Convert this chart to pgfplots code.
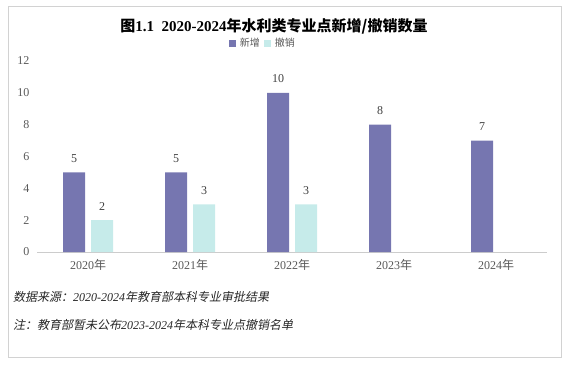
\documentclass[border=0pt]{standalone}
\usepackage{fontspec}
\setmainfont{Liberation Serif}
\newfontfamily\cjk{Noto Sans CJK SC}
\newfontfamily\cjkit[FakeSlant=0.2]{Noto Sans CJK SC}
\usepackage{pgfplots}
\pgfplotsset{compat=1.18}
\definecolor{cnew}{HTML}{7676B0}
\definecolor{cdel}{HTML}{C6EBEA}
\definecolor{tgray}{HTML}{595959}
\definecolor{tdark}{HTML}{404040}
\begin{document}
\begin{tikzpicture}
\path[use as bounding box] (0,0) rectangle (570pt,-367pt);
\draw[gray!35] (8pt,-6pt) rectangle (561pt,-357pt);
\node[font=\fontsize{15}{17}\selectfont\bfseries, text=black] at (274pt,-26pt) {{\cjk\bfseries 图}1.1\ \ 2020-2024{\cjk\bfseries 年水利类专业点新增/撤销数量}};
\begin{axis}[
  at={(37pt,-252pt)}, anchor=south west,
  scale only axis, width=510pt, height=191pt,
  ybar=6pt, bar width=22pt,
  xmin=-0.5, xmax=4.5, ymin=0, ymax=12,
  ytick={0,2,...,12}, xtick={0,1,2,3,4},
  xticklabels={2020{\cjk 年},2021{\cjk 年},2022{\cjk 年},2023{\cjk 年},2024{\cjk 年}},
  axis x line*=bottom, axis y line*=left,
  y axis line style={draw=none},
  x axis line style={draw=gray!40, -},
  major tick length=0pt,
  ticklabel style={font=\fontsize{12}{14}\selectfont, text=tgray},
  yticklabel style={xshift=-4pt},
  xticklabel style={yshift=-4pt},
  /pgf/number format/assume math mode=true,
  nodes near coords,
  nodes near coords style={font=\fontsize{12}{14}\selectfont, text=tdark, yshift=6.5pt},
  legend style={at={(0.443,1.092)}, anchor=center, draw=none, legend columns=2,
    font=\fontsize{10}{12}\selectfont\cjk, text=tgray, column sep=2pt,
    /tikz/every even column/.append style={column sep=2pt}},
  legend image code/.code={\fill[#1] (0pt,-3.5pt) rectangle (7pt,3.5pt);},
  clip=false,
]
\addplot[fill=cnew, draw=none] coordinates {(0,5) (1,5) (2,10) (3,8) (4,7)};
\addplot[fill=cdel, draw=none] coordinates {(0,2) (1,3) (2,3)};
\legend{新增,撤销}
\end{axis}
\node[anchor=west, font=\fontsize{12}{14}\selectfont\itshape, text=black!85, inner sep=0pt] at (13pt,-297pt) {{\cjkit 数据来源：}2020-2024{\cjkit 年教育部本科专业审批结果}};
\node[anchor=west, font=\fontsize{12}{14}\selectfont\itshape, text=black!85, inner sep=0pt] at (13pt,-325pt) {{\cjkit 注：教育部暂未公布}2023-2024{\cjkit 年本科专业点撤销名单}};
\end{tikzpicture}
\end{document}
